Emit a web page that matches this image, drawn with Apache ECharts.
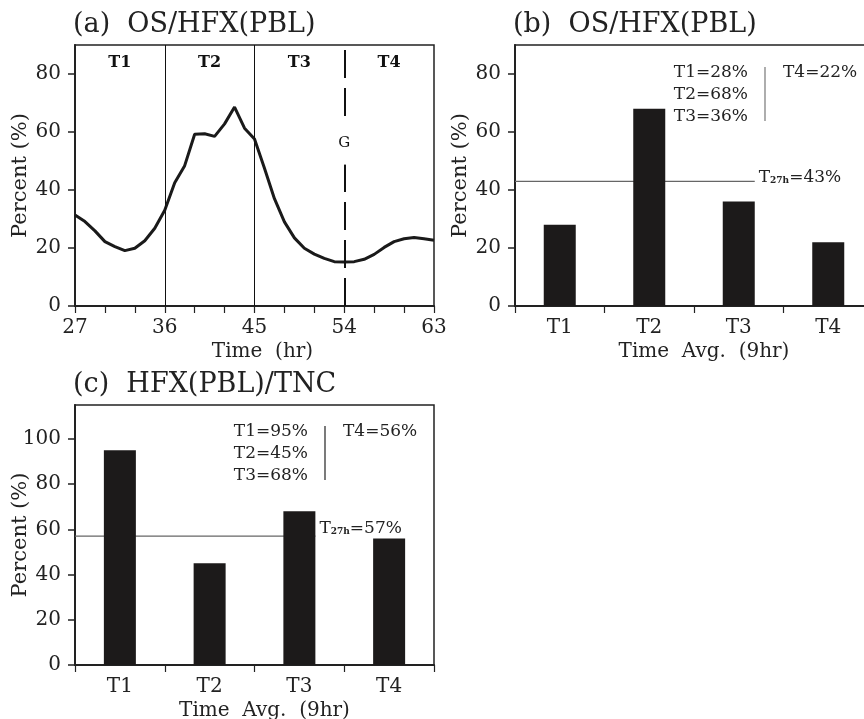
<!DOCTYPE html>
<html><head><meta charset="utf-8">
<script src="https://cdn.jsdelivr.net/npm/echarts@6/dist/echarts.min.js"></script>
<style>html,body{margin:0;padding:0;background:#fff}#c{width:864px;height:719px}</style>
</head><body><div id="c"></div>
<script>
// ---- data ----
const hours = [27,28,29,30,31,32,33,34,35,36,37,38,39,40,41,42,43,44,45,46,47,48,49,50,51,52,53,54,55,56,57,58,59,60,61,62,63];
const osHfxPercent = [31.4,29.1,25.9,22.2,20.5,19.1,19.9,22.5,26.8,33.0,42.5,48.4,59.2,59.4,58.5,62.8,68.6,61.3,57.6,47.5,37.0,29.0,23.5,19.9,17.9,16.4,15.3,15.2,15.3,16.1,17.8,20.2,22.2,23.2,23.6,23.2,22.7];
const periodBoundaries = [36, 45];
const gustHour = 54;
const periods = ['T1','T2','T3','T4'];
const periodCenters = [31.5, 40.5, 49.5, 58.5];
const osHfxAvg = [28, 68, 36, 22];
const osHfxTotal = 43;
const hfxTncAvg = [95, 45, 68, 56];
const hfxTncTotal = 57;
const yTicksAB = [0,20,40,60,80];
const yTicksC = [0,20,40,60,80,100];
const xTicksA = [27,30,33,36,39,42,45,48,51,54,57,60,63];
const xLabelsA = [27,36,45,54,63];

// ---- style / layout ----
const FONT = 'DejaVu Serif';
const INK = '#222';
const BAR = '#1c1a1a';
const BAR_W = 32;
const GW = 358;
const lineEnd = 2.5 + (BAR_W / 2) / (GW / 4);
const periodLabelY = 84;
const gLabelY = 56;

const chart = echarts.init(document.getElementById('c'), null, {renderer: 'canvas'});

function yAxisCfg(grid, max, ticks) {
  return {
    type: 'value', gridIndex: grid, min: 0, max: max,
    name: 'Percent (%)', nameLocation: 'middle', nameGap: 44, nameMoveOverlap: false,
    nameTextStyle: {fontFamily: FONT, fontSize: 21, color: INK},
    axisLine: {show: true, lineStyle: {color: INK, width: 2}},
    axisTick: {show: true, inside: false, length: 7, customValues: ticks, lineStyle: {color: INK, width: 1.5}},
    axisLabel: {fontFamily: FONT, fontSize: 20, color: INK, margin: 14, customValues: ticks},
    splitLine: {show: false}
  };
}
function catAxisCfg(grid) {
  return {
    type: 'category', gridIndex: grid, data: periods,
    name: 'Time  Avg.  (9hr)', nameLocation: 'middle', nameGap: 36, nameMoveOverlap: false,
    nameTextStyle: {fontFamily: FONT, fontSize: 20, color: INK, padding: [0, 0, 0, 20]},
    axisLine: {show: true, lineStyle: {color: INK, width: 2}},
    axisTick: {show: true, inside: false, length: 7, lineStyle: {color: INK, width: 1.2}},
    axisLabel: {fontFamily: FONT, fontSize: 20, color: INK, margin: 12},
    splitLine: {show: false}
  };
}
function hiddenX(grid) {
  return {type: 'value', gridIndex: grid, min: 0, max: 4, show: false};
}
function totalLine(xi, yi, total, dy) {
  return {
    type: 'line', xAxisIndex: xi, yAxisIndex: yi, symbol: 'none', silent: true,
    data: [[0, total], [lineEnd, total]],
    lineStyle: {color: '#666', width: 1.3}, z: 1,
    endLabel: {
      show: true, distance: 4, offset: [0, dy],
      formatter: '{t|T}{s|27h}{t|=' + total + '%}',
      rich: {
        t: {fontFamily: FONT, fontSize: 17, color: INK},
        s: {fontFamily: FONT, fontSize: 9, fontWeight: 'bold', color: INK, padding: [7, 0, 0, 0]}
      }
    }
  };
}
function textBlock(vals, rightX, topY, color) {
  const els = [];
  for (let i = 0; i < 3; i++) {
    els.push({type: 'text', x: rightX, y: topY + i * 22,
      style: {text: periods[i] + '=' + vals[i] + '%', font: '17px "' + FONT + '"', fill: INK, textAlign: 'right', textVerticalAlign: 'middle'}});
  }
  els.push({type: 'line', shape: {x1: rightX + 17, y1: topY - 6, x2: rightX + 17, y2: topY + 48}, style: {stroke: color, lineWidth: 1.2}});
  els.push({type: 'text', x: rightX + 35, y: topY,
    style: {text: periods[3] + '=' + vals[3] + '%', font: '17px "' + FONT + '"', fill: INK, textAlign: 'left', textVerticalAlign: 'middle'}});
  return els;
}

const titleStyle = {fontFamily: FONT, fontSize: 27, fontWeight: 'normal', color: INK};
const gridBase = {show: true, borderColor: INK, borderWidth: 1.5, backgroundColor: 'transparent', containLabel: false, outerBoundsMode: 'none'};

const option = {
  backgroundColor: '#fff',
  animation: false,
  title: [
    {text: '(a)  OS/HFX(PBL)', left: 73, top: 11, textStyle: titleStyle, padding: 0},
    {text: '(b)  OS/HFX(PBL)', left: 513, top: 11, textStyle: titleStyle, padding: 0},
    {text: '(c)  HFX(PBL)/TNC', left: 73, top: 371, textStyle: titleStyle, padding: 0}
  ],
  grid: [
    Object.assign({left: 75, top: 45, width: 359, height: 261}, gridBase),
    Object.assign({left: 515, top: 45, width: GW, height: 261}, gridBase),
    Object.assign({left: 75, top: 405, width: 359, height: 260}, gridBase)
  ],
  xAxis: [
    {
      type: 'value', gridIndex: 0, min: 27, max: 63, interval: 3,
      name: 'Time  (hr)', nameLocation: 'middle', nameGap: 36, nameMoveOverlap: false,
      nameTextStyle: {fontFamily: FONT, fontSize: 20, color: INK, padding: [0, 0, 0, 16]},
      axisLine: {show: true, lineStyle: {color: INK, width: 2}},
      axisTick: {show: true, inside: false, length: 7, customValues: xTicksA, lineStyle: {color: INK, width: 1.2}},
      axisLabel: {fontFamily: FONT, fontSize: 20, color: INK, margin: 12, customValues: xLabelsA},
      splitLine: {show: false}
    },
    catAxisCfg(1),
    hiddenX(1),
    catAxisCfg(2),
    hiddenX(2)
  ],
  yAxis: [
    yAxisCfg(0, 90, yTicksAB),
    yAxisCfg(1, 90, yTicksAB),
    yAxisCfg(2, 115, yTicksC)
  ],
  series: [
    {
      type: 'line', xAxisIndex: 0, yAxisIndex: 0, symbol: 'none', silent: true,
      data: hours.map((h, i) => [h, osHfxPercent[i]]),
      lineStyle: {color: '#1a1a1a', width: 3}, z: 3,
      markLine: {
        silent: true, symbol: 'none', label: {show: false},
        data: periodBoundaries.map(x => ({xAxis: x, lineStyle: {color: '#111', width: 1, type: 'solid'}}))
          .concat([{xAxis: gustHour, lineStyle: {color: '#111', width: 2, type: [28, 10]}}])
      }
    },
    {
      type: 'scatter', xAxisIndex: 0, yAxisIndex: 0, silent: true, z: 6,
      data: [[gustHour, gLabelY]], symbol: 'rect', symbolSize: [12, 42],
      itemStyle: {color: '#fff', opacity: 1},
      label: {show: true, position: 'inside', formatter: 'G', fontFamily: FONT, fontSize: 15, color: '#111', opacity: 1}
    },
    {
      type: 'scatter', xAxisIndex: 0, yAxisIndex: 0, silent: true, z: 6,
      data: periodCenters.map(c => [c, periodLabelY]), symbolSize: 0,
      itemStyle: {opacity: 1},
      label: {show: true, position: 'inside', formatter: p => periods[p.dataIndex], fontFamily: FONT, fontSize: 16, fontWeight: 'bold', color: '#111', opacity: 1}
    },
    {
      type: 'bar', xAxisIndex: 1, yAxisIndex: 1, data: osHfxAvg, barWidth: BAR_W,
      itemStyle: {color: BAR}, silent: true, z: 3
    },
    totalLine(2, 1, osHfxTotal, -4),
    {
      type: 'bar', xAxisIndex: 3, yAxisIndex: 2, data: hfxTncAvg, barWidth: BAR_W,
      itemStyle: {color: BAR}, silent: true, z: 3
    },
    totalLine(4, 2, hfxTncTotal, -8)
  ],
  graphic: textBlock(osHfxAvg, 748, 73, '#777').concat(textBlock(hfxTncAvg, 308, 432, '#222'))
};
chart.setOption(option);
</script>
</body></html>
